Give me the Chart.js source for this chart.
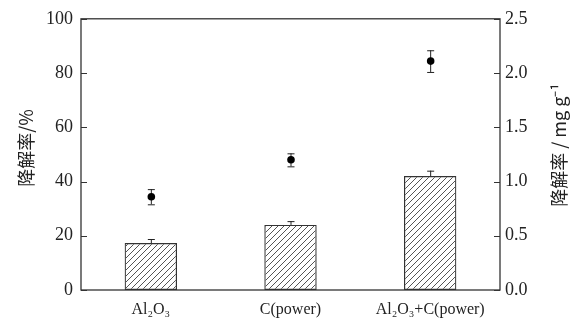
<!DOCTYPE html>
<html><head><meta charset="utf-8">
<script src="https://cdn.jsdelivr.net/npm/chart.js@4/dist/chart.umd.min.js"></script>
<style>html,body{margin:0;padding:0;background:#fff}#wrap{width:585px;height:324px}</style>
</head><body><div id="wrap"><canvas id="c" width="585" height="324"></canvas></div>
<script>
const categories = ['Al₂O₃', 'C(power)', 'Al₂O₃+C(power)'];
const rateValues = [17.3, 24.0, 42.0];      // bars, left axis (%)
const rateErrors = [1.5, 1.4, 2.0];
const capacityValues = [0.86, 1.20, 2.11];  // points, right axis (mg g-1)
const capacityErrors = [0.07, 0.06, 0.10];
const leftTicks = [0, 20, 40, 60, 80, 100];
const rightTicks = [0.0, 0.5, 1.0, 1.5, 2.0, 2.5];

function hatch() {
  const s = 6, c = document.createElement('canvas');
  c.width = s; c.height = s;
  const g = c.getContext('2d');
  g.strokeStyle = '#555'; g.lineWidth = 1;
  g.beginPath();
  g.moveTo(0, s); g.lineTo(s, 0);
  g.moveTo(-1, 1); g.lineTo(1, -1);
  g.moveTo(s - 1, s + 1); g.lineTo(s + 1, s - 1);
  g.stroke();
  return g.createPattern(c, 'repeat');
}

const serif = "'Liberation Serif','Times New Roman',serif";
const cjk = "'Noto Sans CJK SC',sans-serif";

const extras = {
  id: 'extras',
  afterDatasetsDraw(chart) {
    const ctx = chart.ctx, a = chart.chartArea;
    const x = chart.scales.x, y = chart.scales.y, y2 = chart.scales.y2;
    ctx.save();
    ctx.strokeStyle = '#222'; ctx.lineWidth = 1;
    // bar error bars (upper)
    rateValues.forEach((v, i) => {
      const px = x.getPixelForValue(i);
      const top = y.getPixelForValue(v + rateErrors[i]);
      const base = y.getPixelForValue(v);
      ctx.beginPath();
      ctx.moveTo(px + 0.5, base); ctx.lineTo(px + 0.5, top);
      ctx.moveTo(px - 3, top + 0.5); ctx.lineTo(px + 4, top + 0.5);
      ctx.stroke();
    });
    // point error bars
    capacityValues.forEach((v, i) => {
      const px = x.getPixelForValue(i);
      const t = y2.getPixelForValue(v + capacityErrors[i]);
      const b = y2.getPixelForValue(v - capacityErrors[i]);
      ctx.beginPath();
      ctx.moveTo(px + 0.5, t); ctx.lineTo(px + 0.5, b);
      ctx.moveTo(px - 3, t + 0.5); ctx.lineTo(px + 4, t + 0.5);
      ctx.moveTo(px - 3, b + 0.5); ctx.lineTo(px + 4, b + 0.5);
      ctx.stroke();
      ctx.fillStyle = '#000';
      ctx.beginPath(); ctx.arc(px + 0.5, y2.getPixelForValue(v), 3.8, 0, Math.PI * 2); ctx.fill();
    });
    // frame
    ctx.strokeStyle = '#333'; ctx.lineWidth = 1.3;
    ctx.strokeRect(a.left, a.top, a.right - a.left, a.bottom - a.top);
    // inward ticks
    ctx.lineWidth = 1;
    leftTicks.forEach(t => {
      const py = Math.round(y.getPixelForValue(t)) + 0.5;
      ctx.beginPath(); ctx.moveTo(a.left, py); ctx.lineTo(a.left + 6, py); ctx.stroke();
    });
    rightTicks.forEach(t => {
      const py = Math.round(y2.getPixelForValue(t)) + 0.5;
      ctx.beginPath(); ctx.moveTo(a.right, py); ctx.lineTo(a.right - 6, py); ctx.stroke();
    });
    // axis titles
    ctx.fillStyle = '#222';
    ctx.textAlign = 'center'; ctx.textBaseline = 'middle';
    ctx.save();
    ctx.translate(26, 148); ctx.rotate(-Math.PI / 2);
    ctx.font = "18px " + cjk;
    ctx.fillText('降解率/%', 0, 0);
    ctx.restore();
    ctx.save();
    ctx.translate(559, 145); ctx.rotate(-Math.PI / 2);
    ctx.font = "18px " + cjk;
    ctx.fillText('降解率 / mg g⁻¹', 0, 0);
    ctx.restore();
    ctx.restore();
  }
};

new Chart(document.getElementById('c'), {
  data: {
    labels: categories,
    datasets: [
      { type: 'bar', data: rateValues, yAxisID: 'y', backgroundColor: hatch(),
        borderColor: '#333', borderWidth: 1.2, borderSkipped: false,
        barPercentage: 0.375, categoryPercentage: 1 },
      { type: 'line', data: capacityValues, yAxisID: 'y2', showLine: false,
        pointRadius: 0, borderColor: '#000', backgroundColor: '#000' }
    ]
  },
  options: {
    responsive: false, animation: false, devicePixelRatio: 1,
    layout: { padding: { top: 17, left: 0, right: 0, bottom: 0 } },
    plugins: { legend: { display: false }, tooltip: { enabled: false } },
    scales: {
      x: { grid: { display: false, drawTicks: false }, border: { display: false },
           ticks: { padding: 10, color: '#222', font: { family: serif, size: 16 } },
           afterFit(s) { s.height = 34; } },
      y: { position: 'left', min: 0, max: 100,
           grid: { display: false, drawTicks: false }, border: { display: false },
           ticks: { stepSize: 20, padding: 8, color: '#222', font: { family: serif, size: 18 } },
           afterFit(s) { s.width = 81; } },
      y2: { position: 'right', min: 0, max: 2.5,
           grid: { display: false, drawTicks: false }, border: { display: false },
           ticks: { stepSize: 0.5, padding: 5, color: '#222', font: { family: serif, size: 18 },
                    callback: v => Number(v).toFixed(1) },
           afterFit(s) { s.width = 85; } }
    }
  },
  plugins: [extras]
});
</script></body></html>
